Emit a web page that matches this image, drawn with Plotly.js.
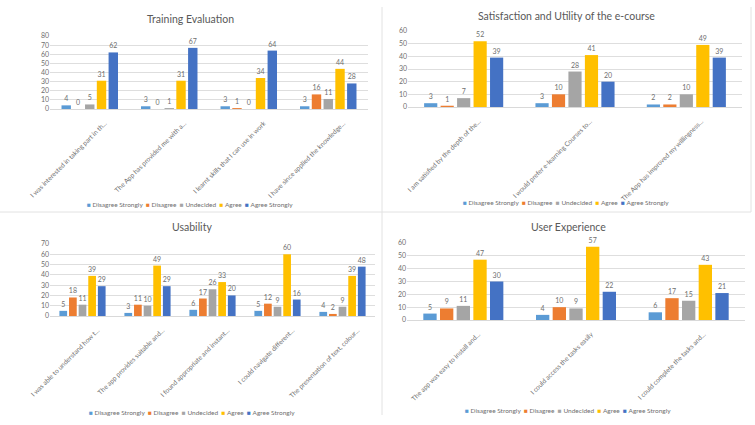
<!DOCTYPE html>
<html><head><meta charset="utf-8">
<script src="https://cdn.plot.ly/plotly-3.0.1.min.js"></script>
<style>html,body{margin:0;padding:0;background:#fff}#chart{width:755px;height:425px}</style>
</head><body><div id="chart"></div>
<script>
const seriesNames = ['Disagree Strongly', 'Disagree', 'Undecided', 'Agree', 'Agree Strongly'];
const seriesColors = ['#5B9BD5', '#ED7D31', '#A5A5A5', '#FFC000', '#4472C4'];

const trainingTitle = 'Training Evaluation';
const trainingCats = ['I was interested in taking part in th...', 'The App has provided me with a...', 'I learnt skills that I can use in work', 'I have since applied the knowledge...'];
const trainingDS = [4, 3, 3, 3];
const trainingD = [0, 0, 1, 16];
const trainingU = [5, 1, 0, 11];
const trainingA = [31, 31, 34, 44];
const trainingAS = [62, 67, 64, 28];

const satisTitle = 'Satisfaction and Utility of the e-course';
const satisCats = ['I am satisfied by the depth of the...', 'I would prefer e-learning Courses to...', 'The App has improved my willingness...'];
const satisDS = [3, 3, 2];
const satisD = [1, 10, 2];
const satisU = [7, 28, 10];
const satisA = [52, 41, 49];
const satisAS = [39, 20, 39];

const usabTitle = 'Usability';
const usabCats = ['I was able to understand how t...', 'The app provides suitable and...', 'I found appropriate and instant...', 'I could navigate different...', 'The presentation of text, colour...'];
const usabDS = [5, 3, 6, 5, 4];
const usabD = [18, 11, 17, 12, 2];
const usabU = [11, 10, 26, 9, 9];
const usabA = [39, 49, 33, 60, 39];
const usabAS = [29, 29, 20, 16, 48];

const uxTitle = 'User Experience';
const uxCats = ['The app was easy to install and...', 'I could access the tasks easily', 'I could complete the tasks and...'];
const uxDS = [5, 4, 6];
const uxD = [9, 10, 17];
const uxU = [11, 9, 15];
const uxA = [47, 57, 43];
const uxAS = [30, 22, 21];

const yMaxTraining = 80, yMaxSatis = 60, yMaxUsab = 70, yMaxUx = 60;

const panels = [
  {title: trainingTitle, cats: trainingCats, vals: [trainingDS, trainingD, trainingU, trainingA, trainingAS], ymax: yMaxTraining,
   xd: [50/755, 368/755], yd: [1-109/425, 1-36/425], ty: 1-19/425, tx: 190/755, ly: 1-204/425, lx: 190/755},
  {title: satisTitle, cats: satisCats, vals: [satisDS, satisD, satisU, satisA, satisAS], ymax: yMaxSatis,
   xd: [408/755, 742/755], yd: [1-107/425, 1-31/425], ty: 1-16/425, tx: 566/755, ly: 1-202/425, lx: 566/755},
  {title: usabTitle, cats: usabCats, vals: [usabDS, usabD, usabU, usabA, usabAS], ymax: yMaxUsab,
   xd: [50/755, 375/755], yd: [1-316/425, 1-244/425], ty: 1-227/425, tx: 192/755, ly: 1-412/425, lx: 192/755},
  {title: uxTitle, cats: uxCats, vals: [uxDS, uxD, uxU, uxA, uxAS], ymax: yMaxUx,
   xd: [407/755, 745/755], yd: [1-320/425, 1-243/425], ty: 1-227/425, tx: 568/755, ly: 1-410/425, lx: 568/755}
];

const FONT = 'Lato, "Open Sans", sans-serif';
const GRAY = '#6f6f6f';
const data = [];
const layout = {
  width: 755, height: 425,
  margin: {l: 0, r: 0, t: 0, b: 0},
  paper_bgcolor: '#ffffff', plot_bgcolor: '#ffffff',
  barmode: 'group', bargap: 0.26, bargroupgap: 0.2,
  showlegend: false, hovermode: false,
  font: {family: FONT, color: GRAY, size: 7},
  annotations: [], shapes: []
};

let legendText = seriesNames.map((n, i) => `<span style="color:${seriesColors[i]}">■</span> ${n}`).join('  ');

panels.forEach((p, k) => {
  const sfx = k === 0 ? '' : String(k + 1);
  p.vals.forEach((v, i) => {
    data.push({
      type: 'bar', x: p.cats, y: v, name: seriesNames[i],
      xaxis: 'x' + sfx, yaxis: 'y' + sfx,
      marker: {color: seriesColors[i]},
      text: v.map(String), textposition: 'outside', cliponaxis: false,
      textfont: {size: 7, color: GRAY, family: FONT},
      constraintext: 'none'
    });
  });
  layout['xaxis' + sfx] = {
    domain: p.xd, anchor: 'y' + sfx, type: 'category',
    tickangle: -45, tickfont: {size: 6.6, color: GRAY, family: FONT},
    ticklabelshift: 15, ticklabelstandoff: 7,
    showline: true, linecolor: '#d9d9d9', linewidth: 1, ticks: '', showgrid: false, fixedrange: true
  };
  layout['yaxis' + sfx] = {
    domain: p.yd, anchor: 'x' + sfx, range: [0, p.ymax], dtick: 10,
    tickfont: {size: 7, color: GRAY, family: FONT},
    gridcolor: '#dedede', gridwidth: 1, zeroline: false, showline: false, ticks: '', fixedrange: true
  };
  layout.annotations.push({
    xref: 'paper', yref: 'paper', x: p.tx, y: p.ty, xanchor: 'center', yanchor: 'middle',
    text: p.title, showarrow: false, font: {size: 10.5, color: '#595959', family: FONT}
  });
  layout.annotations.push({
    xref: 'paper', yref: 'paper', x: p.lx, y: p.ly, xanchor: 'center', yanchor: 'middle',
    text: legendText, showarrow: false, font: {size: 6.5, color: GRAY, family: FONT}
  });
});

const lineStyle = {color: '#e2e2e2', width: 1};
layout.shapes.push({type: 'line', xref: 'paper', yref: 'paper', x0: 382/755, x1: 382/755, y0: 1-415/425, y1: 1-7/425, line: lineStyle});
layout.shapes.push({type: 'line', xref: 'paper', yref: 'paper', x0: 0, x1: 751/755, y0: 1-212/425, y1: 1-212/425, line: lineStyle});
layout.shapes.push({type: 'line', xref: 'paper', yref: 'paper', x0: 751/755, x1: 751/755, y0: 1-212/425, y1: 1-7/425, line: lineStyle});

Plotly.newPlot('chart', data, layout, {displayModeBar: false, staticPlot: true});
</script>
</body></html>
